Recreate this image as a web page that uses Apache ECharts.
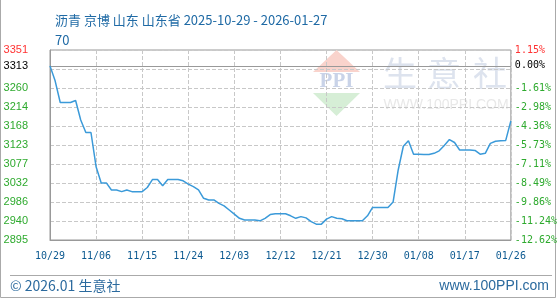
<!DOCTYPE html>
<html><head><meta charset="utf-8">
<script src="https://cdn.jsdelivr.net/npm/echarts@6/dist/echarts.min.js"></script>
<style>html,body{margin:0;padding:0;background:#fff}#c{width:560px;height:300px}</style>
</head><body><div id="c"></div>
<script>
const titleText = '沥青 京博 山东 山东省 2025-10-29 - 2026-01-27\n70';
const xLabels = ['10/29','11/06','11/15','11/24','12/03','12/12','12/21','12/30','01/08','01/17','01/26'];
const xTickDays = [0, 9, 18, 27, 36, 45, 54, 63, 72, 81, 90];
const prices = [
  3313, 3277, 3225, 3225, 3225, 3230, 3183, 3153, 3153, 3071,
  3032, 3032, 3015, 3015, 3011, 3015, 3011, 3011, 3011, 3021,
  3040, 3040, 3025, 3040, 3040, 3040, 3037, 3029, 3023, 3015,
  2995, 2991, 2991, 2983, 2977, 2967, 2957, 2947, 2943, 2943,
  2943, 2941, 2947, 2956, 2958, 2958, 2958, 2953, 2947, 2951,
  2948, 2939, 2933, 2933, 2945, 2951, 2947, 2946, 2941, 2941,
  2941, 2941, 2953, 2973, 2973, 2973, 2973, 2986, 3063, 3120,
  3133, 3101, 3101, 3100, 3100, 3103, 3109, 3122, 3136, 3129,
  3111, 3111, 3111, 3110, 3101, 3103, 3127, 3132, 3133, 3134,
  3181
];
const baseValue = 3313;
const baseLeftLabel = '3313';
const baseRightLabel = '0.00%';
const yTickValues = [2894.9, 2940.5, 2986.1, 3031.8, 3077.4, 3123.0, 3168.6, 3214.2, 3259.9, 3305.5, 3351.1];
const yLeftLabels = ['2895','2940','2986','3032','3077','3123','3168','3214','3260','','3351'];
const yRightLabels = ['-12.62%','-11.24%','-9.86%','-8.49%','-7.11%','-5.73%','-4.36%','-2.98%','-1.61%','','1.15%'];
const footerLeft = '© 2026.01 生意社';
const footerRight = 'www.100PPI.com';

function nearestIdx(arr, v) {
  let b = 0, d = Infinity;
  arr.forEach((t, i) => { const e = Math.abs(t - v); if (e < d) { d = e; b = i; } });
  return b;
}
const GREEN = '#2eaa2e', RED = '#ff3333';
function labColor(v) {
  const i = nearestIdx(yTickValues, v);
  return i === yTickValues.length - 1 ? RED : GREEN;
}

const chart = echarts.init(document.getElementById('c'), null, {renderer: 'canvas'});
chart.setOption({
  animation: false,
  title: {
    text: titleText, left: 50, top: 5,
    textStyle: {fontSize: 13, fontWeight: 'normal', color: '#1f6aa5', lineHeight: 20, fontFamily: 'Noto Sans CJK SC'}
  },
  grid: {left: 50, right: 49, top: 50, bottom: 60, show: true, borderColor: '#999', borderWidth: 1},
  xAxis: {
    type: 'value', min: 0, max: 90, interval: 9,
    axisLine: {show: true, lineStyle: {color: '#999'}},
    axisTick: {show: false},
    splitLine: {show: true, lineStyle: {type: 'dashed', color: '#c8c8c8'}},
    axisLabel: {
      margin: 11, color: '#0d5a91', fontSize: 10, fontFamily: 'DejaVu Sans Mono',
      formatter: v => xLabels[nearestIdx(xTickDays, v)]
    }
  },
  yAxis: [{
    type: 'value', min: yTickValues[0], max: yTickValues[yTickValues.length - 1],
    axisLine: {show: true, lineStyle: {color: '#999'}},
    axisTick: {show: false, customValues: yTickValues},
    splitLine: {show: true, lineStyle: {type: 'dashed', color: '#c8c8c8'}},
    axisLabel: {
      customValues: yTickValues, margin: 22, fontSize: 11, fontFamily: 'Liberation Sans',
      color: labColor,
      formatter: v => yLeftLabels[nearestIdx(yTickValues, v)]
    }
  }, {
    type: 'value', position: 'right', min: yTickValues[0], max: yTickValues[yTickValues.length - 1],
    axisLine: {show: false}, axisTick: {show: false, customValues: yTickValues}, splitLine: {show: false},
    axisLabel: {
      customValues: yTickValues, margin: 4, fontSize: 10, fontFamily: 'DejaVu Sans Mono',
      color: labColor,
      formatter: v => yRightLabels[nearestIdx(yTickValues, v)]
    }
  }],
  graphic: [
    {type: 'polygon', shape: {points: [[313, 72], [336.5, 50], [360, 72]]}, style: {fill: '#f9d3cc'}, z: 0, silent: true},
    {type: 'text', x: 336.5, y: 82, style: {text: 'PPI', fill: '#c9d3e8', font: 'bold 21px "Liberation Serif"', align: 'center', verticalAlign: 'middle'}, z: 0, silent: true},
    {type: 'polygon', shape: {points: [[313, 93], [360, 93], [336.5, 116]]}, style: {fill: '#d6eed6'}, z: 0, silent: true},
    {type: 'text', x: 400, y: 73, style: {text: '生', fill: '#dde3ee', font: '34px "Noto Sans CJK SC"', align: 'center', verticalAlign: 'middle'}, z: 0, silent: true},
    {type: 'text', x: 444, y: 73, style: {text: '意', fill: '#dde3ee', font: '34px "Noto Sans CJK SC"', align: 'center', verticalAlign: 'middle'}, z: 0, silent: true},
    {type: 'text', x: 490, y: 73, style: {text: '社', fill: '#dde3ee', font: '34px "Noto Sans CJK SC"', align: 'center', verticalAlign: 'middle'}, z: 0, silent: true},
    {type: 'text', x: 446, y: 105, style: {text: 'WWW.100PPI.COM', fill: '#e8e8e8', font: '14px "Liberation Sans"', align: 'center', verticalAlign: 'middle'}, z: 0, silent: true},
    {type: 'line', shape: {x1: 10, y1: 275.5, x2: 552, y2: 275.5}, style: {stroke: '#aaa', lineWidth: 1}, silent: true},
    {type: 'rect', shape: {x: 0.5, y: -2, width: 555, height: 299.5}, style: {fill: 'none', stroke: '#aaa', lineWidth: 1}, silent: true},
    {type: 'text', x: 10, y: 286, style: {text: footerLeft, fill: '#2b6a9e', font: '14px "Noto Sans CJK SC"', align: 'left', verticalAlign: 'middle'}, silent: true},
    {type: 'text', x: 549, y: 286, style: {text: footerRight, fill: '#2b6a9e', font: '14px "Liberation Sans"', align: 'right', verticalAlign: 'middle'}, silent: true}
  ],
  series: [{
    type: 'line', xAxisIndex: 0, yAxisIndex: 0,
    data: prices.map((v, i) => [i, v]),
    symbol: 'none', lineStyle: {color: '#3b9ad9', width: 1.5}, itemStyle: {color: '#3b9ad9'},
    z: 5,
    markLine: {
      symbol: 'none', silent: true, animation: false,
      lineStyle: {color: '#999', type: 'solid', width: 1},
      data: [
        {yAxis: baseValue, label: {show: true, position: 'start', formatter: baseLeftLabel, color: '#000', distance: 22, fontSize: 11, fontFamily: 'Liberation Sans'}},
        {yAxis: baseValue, label: {show: true, position: 'end', formatter: baseRightLabel, color: '#000', distance: 4, fontSize: 10, fontFamily: 'DejaVu Sans Mono'}}
      ]
    }
  }]
});
</script></body></html>
